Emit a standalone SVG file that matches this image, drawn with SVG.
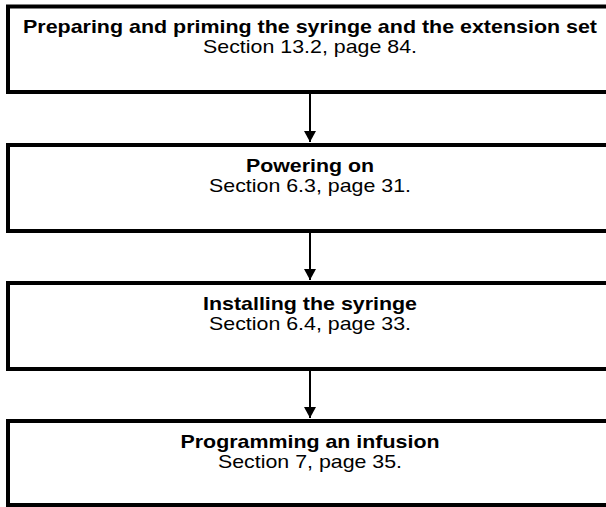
<svg xmlns="http://www.w3.org/2000/svg" width="606" height="507" viewBox="0 0 606 507">
<defs>
<style>
.box{fill:#fff;stroke:#000;stroke-width:4}
.t{font-family:"Liberation Sans",Arial,sans-serif;font-size:19px;fill:#000;text-anchor:middle}
.b{font-weight:bold}
.c{stroke:#000;stroke-width:2;fill:none}
</style>
<marker id="ah" markerWidth="11" markerHeight="12" refX="11" refY="6" orient="auto" markerUnits="userSpaceOnUse">
<path d="M0,0 L11,6 L0,12 Z" fill="#000"/>
</marker>
</defs>
<rect width="606" height="507" fill="#fff"/>
<g id="n1"><rect class="box" x="8" y="6.5" width="610" height="85.5"/>
<text class="t b" x="310" y="32.5" textLength="574" lengthAdjust="spacingAndGlyphs">Preparing and priming the syringe and the extension set</text>
<text class="t" x="310" y="52.5" textLength="214" lengthAdjust="spacingAndGlyphs">Section 13.2, page 84.</text></g>
<g id="n2"><rect class="box" x="8" y="145" width="610" height="86"/>
<text class="t b" x="310" y="171.5" textLength="128" lengthAdjust="spacingAndGlyphs">Powering on</text>
<text class="t" x="310" y="191.5" textLength="202" lengthAdjust="spacingAndGlyphs">Section 6.3, page 31.</text></g>
<g id="n3"><rect class="box" x="8" y="283" width="610" height="86"/>
<text class="t b" x="310" y="309.5" textLength="214" lengthAdjust="spacingAndGlyphs">Installing the syringe</text>
<text class="t" x="310" y="329.5" textLength="202" lengthAdjust="spacingAndGlyphs">Section 6.4, page 33.</text></g>
<g id="n4"><rect class="box" x="8" y="421" width="610" height="84"/>
<text class="t b" x="310" y="447.5" textLength="259" lengthAdjust="spacingAndGlyphs">Programming an infusion</text>
<text class="t" x="310" y="467.5" textLength="184" lengthAdjust="spacingAndGlyphs">Section 7, page 35.</text></g>
<g id="connectors">
<line class="c" x1="310" y1="94" x2="310" y2="142" marker-end="url(#ah)"/>
<line class="c" x1="310" y1="233" x2="310" y2="280" marker-end="url(#ah)"/>
<line class="c" x1="310" y1="371" x2="310" y2="418" marker-end="url(#ah)"/>
</g>
</svg>
